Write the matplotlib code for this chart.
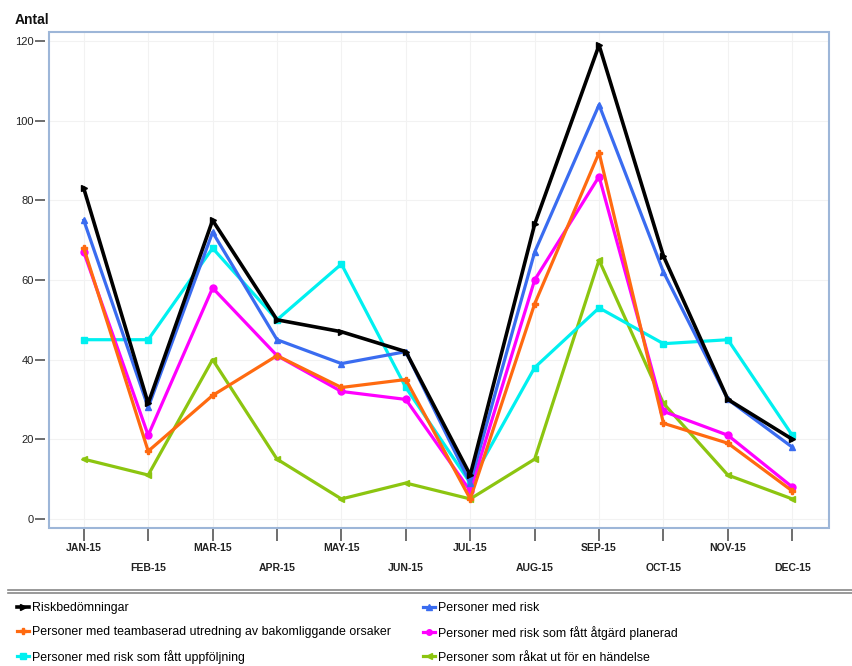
import numpy as np
import matplotlib
matplotlib.use('Agg')
import matplotlib.pyplot as plt
from matplotlib.patches import Rectangle
from matplotlib.lines import Line2D

plt.rcParams['font.family'] = ['Liberation Sans', 'DejaVu Sans']

manader = ['JAN-15', 'FEB-15', 'MAR-15', 'APR-15', 'MAY-15', 'JUN-15',
           'JUL-15', 'AUG-15', 'SEP-15', 'OCT-15', 'NOV-15', 'DEC-15']

riskbedomningar = [83, 29, 75, 50, 47, 42, 11, 74, 119, 66, 30, 20]
med_risk = [75, 28, 72, 45, 39, 42, 9, 67, 104, 62, 30, 18]
teambaserad = [68, 17, 31, 41, 33, 35, 5, 54, 92, 24, 19, 7]
atgard = [67, 21, 58, 41, 32, 30, 7, 60, 86, 27, 21, 8]
uppfoljning = [45, 45, 68, 50, 64, 33, 9, 38, 53, 44, 45, 21]
handelse = [15, 11, 40, 15, 5, 9, 5, 15, 65, 29, 11, 5]

serier = [
    ('Riskbedömningar', riskbedomningar, 'black', '>'),
    ('Personer med risk', med_risk, '#3a6cf0', '^'),
    ('Personer med teambaserad utredning av bakomliggande orsaker', teambaserad, '#ff6a10', 'P'),
    ('Personer med risk som fått åtgärd planerad', atgard, '#ff00ff', 'o'),
    ('Personer med risk som fått uppföljning', uppfoljning, '#00f0f0', 's'),
    ('Personer som råkat ut för en händelse', handelse, '#8cc510', '<'),
]

fig = plt.figure(figsize=(8.53, 6.66), dpi=100)
ax = fig.add_axes([49/853, 138/666, 780/853, 496/666])
x = np.arange(len(manader))

# ritordning: gröna underst, svarta överst
linjer = {}
for namn, v, farg, mark in [serier[5], serier[4], serier[3], serier[2], serier[1], serier[0]]:
    bredd = 2.6 if farg == 'black' else 2.3
    l, = ax.plot(x, v, color=farg, lw=bredd, marker=mark, ms=5, mec=farg, mfc=farg, label=namn)
    linjer[namn] = l

ax.set_xlim(-0.54, 11.57)
ax.set_ylim(-2.3, 122.3)
ax.set_yticks([0, 20, 40, 60, 80, 100, 120])
ax.set_xticks(x)
ax.set_xticklabels([m if i % 2 == 0 else '\n' + m for i, m in enumerate(manader)])
ax.grid(True, color='#f2f2f2', lw=0.8)
ax.set_axisbelow(True)

for s in ax.spines.values():
    s.set_visible(False)
ax.spines['left'].set_position(('outward', 3))
ax.add_patch(Rectangle((0, 0), 1, 1, transform=ax.transAxes, fill=False,
                       ec='#9db6d8', lw=1.5, clip_on=False, zorder=5))
ax.tick_params(axis='y', length=7, width=1.2, color='#555555', labelsize=8, pad=1, labelcolor='#222222')
ax.tick_params(axis='x', length=9, width=1.2, color='#555555', labelsize=7.5, pad=2, labelcolor='#222222')
for t in ax.get_xticklabels():
    t.set_fontweight('bold')
    t.set_linespacing(2.25)

fig.text(15/853, 1 - 20/666, 'Antal', fontsize=10, fontweight='bold', va='center', ha='left', color='#111111')

# skiljelinje ovanför förklaringen
fig.add_artist(Line2D([8/853, 1], [1 - 590/666] * 2, color='#888888', lw=1.2, transform=fig.transFigure))
fig.add_artist(Line2D([8/853, 1], [1 - 593/666] * 2, color='#888888', lw=1.2, transform=fig.transFigure))

ordning = [serier[0][0], serier[2][0], serier[4][0], serier[1][0], serier[3][0], serier[5][0]]
handtag = [linjer[n] for n in ordning]
fig.legend(handtag, ordning, loc='upper left', bbox_to_anchor=(6/853, 1 - 591/666), ncol=2,
           frameon=False, fontsize=8.9, handlelength=1.0, handletextpad=0.2,
           columnspacing=2.6, labelspacing=0.95, markerscale=0.8)

fig.savefig('out.png', dpi=100)
